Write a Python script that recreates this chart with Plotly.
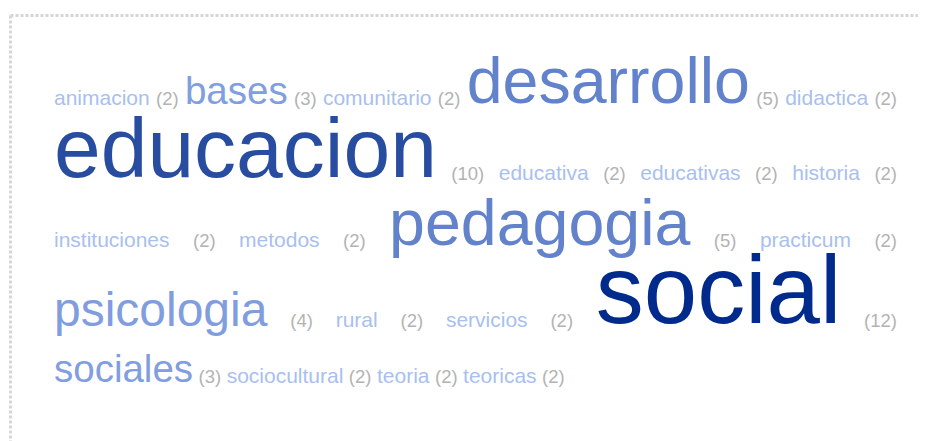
import plotly.graph_objects as go

# ---- data ----
words = ["animacion", "bases", "comunitario", "desarrollo", "didactica",
         "educacion", "educativa", "educativas", "historia",
         "instituciones", "metodos", "pedagogia", "practicum",
         "psicologia", "rural", "servicios", "social",
         "sociales", "sociocultural", "teoria", "teoricas"]
counts = [2, 3, 2, 5, 2,
          10, 2, 2, 2,
          2, 2, 5, 2,
          4, 2, 2, 12,
          3, 2, 2, 2]

# ---- style ----
W_PX, H_PX = 926, 441
PAGE_OFF = 8  # default body margin of the html page
FONT = "Liberation Sans, Arial, Helvetica, sans-serif"
SIZE_BY_COUNT = {2: 21, 3: 38.5, 4: 48, 5: 64.5, 10: 84, 12: 96}
COLOR_BY_COUNT = {2: "#a8bff0", 3: "#809ee0", 4: "#7f9ddf", 5: "#6282cb",
                  10: "#284ca0", 12: "#002b8c"}
COUNT_SIZE = 18.5
COUNT_COLOR = "#b3b3b3"
LEFT, RIGHT = 54, 897
SPACE = 5.5
CONTENT_TOP = 39.2
LINE_GAP, ASC = 40, 0.4167
BASE_SHIFT = 0.30

ADV = {'a': 556, 'b': 556, 'c': 500, 'd': 556, 'e': 556, 'f': 278, 'g': 556,
       'h': 556, 'i': 222, 'j': 222, 'k': 500, 'l': 222, 'm': 833, 'n': 556,
       'o': 556, 'p': 556, 'q': 556, 'r': 333, 's': 500, 't': 278, 'u': 556,
       'v': 500, 'w': 722, 'x': 500, 'y': 500, 'z': 500, ' ': 278,
       '(': 333, ')': 333}
for dch in "0123456789":
    ADV[dch] = 556


def text_width(s, size):
    return sum(ADV.get(ch, 556) for ch in s) / 1000.0 * size


# build tokens per item
items = []
for w, c in zip(words, counts):
    wt = (w, SIZE_BY_COUNT[c], COLOR_BY_COUNT[c])
    ct = ("(%d)" % c, COUNT_SIZE, COUNT_COLOR)
    items.append([wt, ct])

# greedy line breaking
avail = RIGHT - LEFT
lines, cur, cur_w = [], [], 0.0
for it in items:
    iw = sum(text_width(t[0], t[1]) for t in it) + SPACE
    add = iw if not cur else iw + SPACE
    if cur and cur_w + add > avail:
        lines.append(cur)
        cur, cur_w = [], 0.0
        add = iw
    cur.append(it)
    cur_w += add
if cur:
    lines.append(cur)

xs, ys, texts, sizes, colors = [], [], [], [], []
baseline = CONTENT_TOP
for li, line in enumerate(lines):
    toks = [t for it in line for t in it]
    maxsize = max(t[1] for t in toks)
    baseline += LINE_GAP + ASC * maxsize
    widths = [text_width(t[0], t[1]) for t in toks]
    ngaps = len(toks) - 1
    last = li == len(lines) - 1
    if last:
        gap = SPACE
    else:
        gap = (avail - sum(widths)) / ngaps
    x = LEFT
    for t, w in zip(toks, widths):
        xs.append(x + w / 2)
        ys.append(baseline - BASE_SHIFT * t[1])
        texts.append(t[0])
        sizes.append(t[1])
        colors.append(t[2])
        x += w + gap

fig = go.Figure()
fig.add_trace(go.Scatter(
    x=xs, y=ys, text=texts, mode="text", textposition="middle center",
    textfont=dict(family=FONT, size=sizes, color=colors),
    hoverinfo="skip", showlegend=False, cliponaxis=False))

border = dict(color="#d6d6d6", width=3, dash="3px,2px")
fig.add_shape(type="line", xref="x", yref="y", x0=10.5, x1=W_PX + 20,
              y0=15.5, y1=15.5, line=border)
fig.add_shape(type="line", xref="x", yref="y", x0=10.5, x1=10.5,
              y0=15.5, y1=H_PX + 20, line=border)

fig.update_layout(
    width=W_PX, height=H_PX,
    margin=dict(l=0, r=0, t=0, b=0),
    paper_bgcolor="white", plot_bgcolor="white",
    xaxis=dict(range=[PAGE_OFF, W_PX + PAGE_OFF], visible=False, fixedrange=True),
    yaxis=dict(range=[H_PX + PAGE_OFF, PAGE_OFF], visible=False, fixedrange=True),
)
fig.write_html("out.html")
